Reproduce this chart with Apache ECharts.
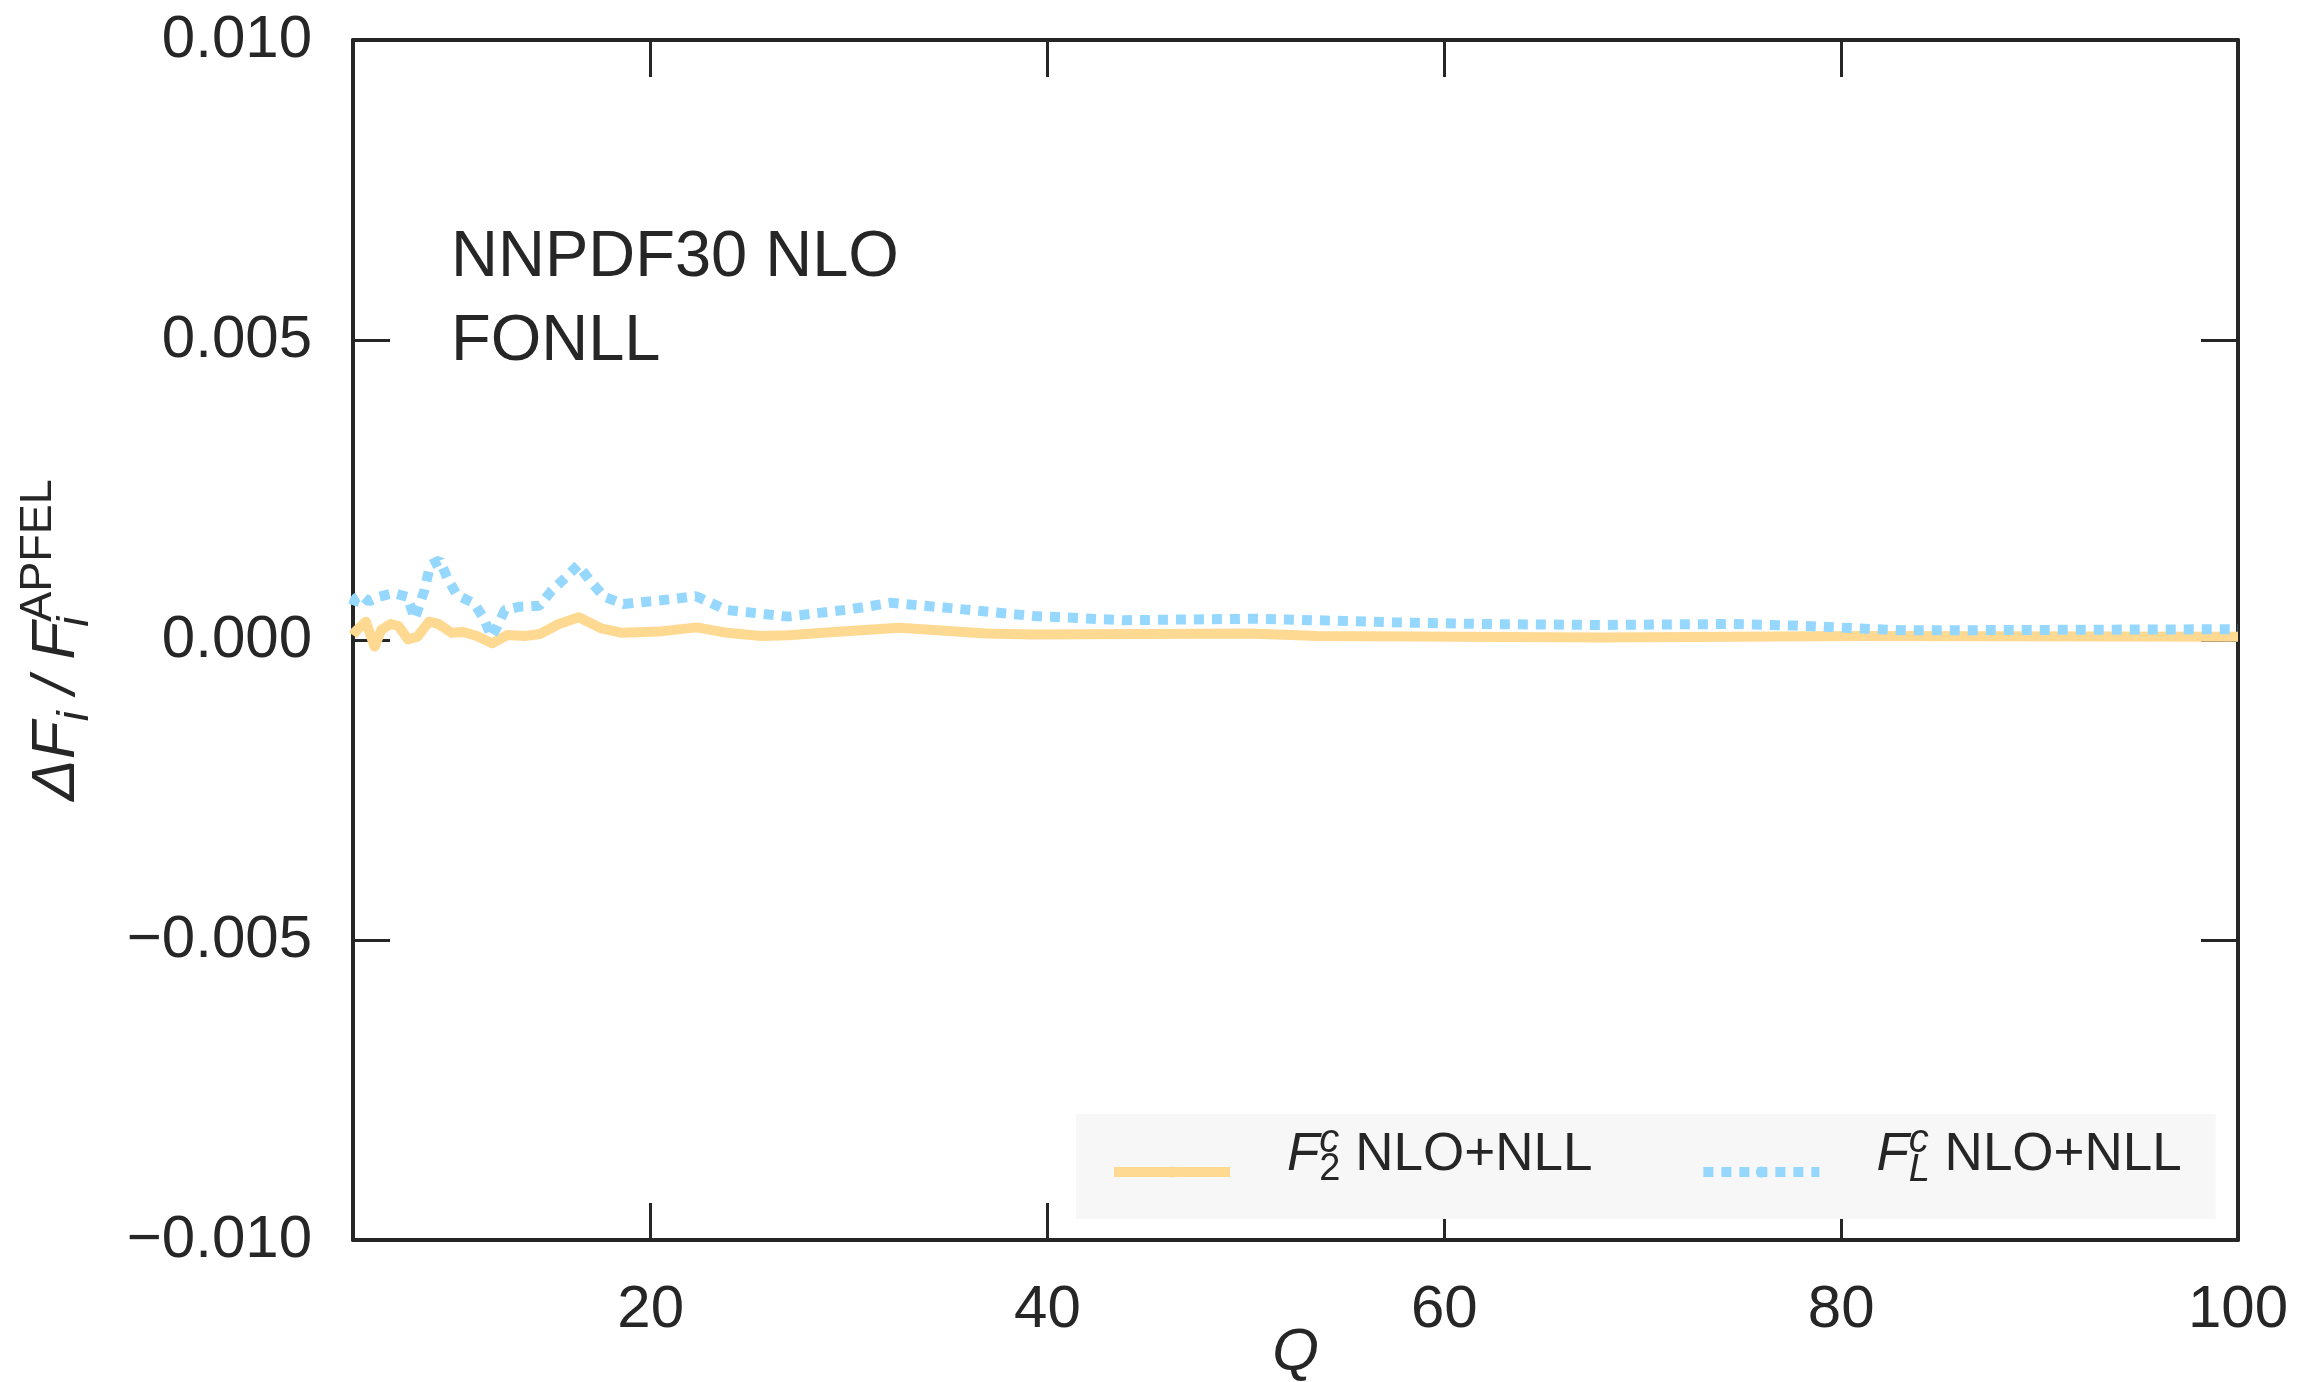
<!DOCTYPE html>
<html>
<head>
<meta charset="utf-8">
<script src="https://cdn.jsdelivr.net/npm/echarts@6/dist/echarts.min.js"></script>
<style>
html,body{margin:0;padding:0;background:#fff;}
#chart{width:2317px;height:1382px;}
</style>
</head>
<body>
<div id="chart"></div>
<script>
// ---- data ----
const qF2 = [5.0, 5.12, 5.65, 6.09, 6.42, 6.90, 7.29, 7.77, 8.25, 8.83, 9.31, 9.98, 10.56, 11.24, 12.01, 12.78, 13.65, 14.42, 15.38, 16.38, 17.50, 18.56, 20.39, 22.32, 23.86, 25.59, 26.94, 28.68, 32.53, 36.9, 39.3, 50.2, 53.6, 67.9, 81.1, 100];
const f2Vals = [0.00008, 0.00014, 0.000305, -0.00011, 0.000167, 0.000267, 0.000233, 0.00001, 0.000055, 0.000305, 0.000267, 0.00012, 0.000133, 0.000067, -0.000055, 0.000083, 0.000067, 0.0001, 0.000267, 0.000378, 0.000195, 0.00012, 0.00014, 0.00021, 0.00012, 0.000067, 0.000078, 0.00012, 0.000205, 0.00011, 0.00009, 0.00011, 0.000067, 0.00004, 0.000067, 0.000055];

const qFL = [5.0, 5.12, 5.42, 5.80, 6.29, 7.06, 7.73, 8.12, 8.60, 8.89, 9.37, 9.76, 10.24, 11.11, 11.59, 11.98, 12.26, 12.65, 13.42, 14.39, 14.97, 15.74, 16.35, 16.99, 17.66, 18.63, 20.36, 22.29, 23.83, 26.91, 30.0, 32.1, 34.8, 39.3, 43.8, 50.6, 57.4, 61.8, 67.9, 74.3, 77.7, 81.1, 83.3, 100];
const fLVals = [0.00058, 0.00069, 0.00075, 0.00064, 0.00072, 0.00078, 0.00072, 0.00036, 0.00083, 0.00125, 0.00133, 0.00103, 0.00075, 0.00061, 0.00036, 0.000055, 0.00022, 0.0005, 0.000555, 0.00057, 0.000805, 0.00105, 0.00125, 0.00097, 0.00072, 0.0006, 0.000655, 0.00073, 0.0005, 0.00039, 0.00051, 0.00062, 0.00054, 0.0004, 0.00033, 0.000355, 0.000295, 0.000267, 0.00025, 0.000267, 0.00024, 0.00019, 0.00016, 0.00018];

const seriesNames = ['F2c', 'FLc'];
const xLabelValues = [20, 40, 60, 80, 100];
const xTickValues = [20, 40, 60, 80];
const annotationLines = ['NNPDF30 NLO', 'FONLL'];

const FONT = '"Liberation Sans", Arial, sans-serif';
const INK = '#262626';
const ORANGE = '#fed992';
const BLUE = '#96d8fd';

function pairs(xs, ys) { return xs.map((x, i) => [x, ys[i]]); }

const chart = echarts.init(document.getElementById('chart'), null, {renderer: 'canvas'});

const axisLineStyle = {show: true, onZero: false, lineStyle: {color: INK, width: 4}};
const tickStyle = {show: true, inside: true, length: 37, lineStyle: {color: INK, width: 3}};

const option = {
  backgroundColor: '#ffffff',
  animation: false,
  textStyle: {fontFamily: FONT, color: INK},
  grid: {left: 353, right: 79, top: 40, bottom: 142, containLabel: false, outerBoundsMode: 'none'},
  xAxis: [
    {
      type: 'value', min: 5, max: 100, position: 'bottom',
      axisLine: axisLineStyle,
      axisTick: Object.assign({}, tickStyle, {customValues: xTickValues}),
      axisLabel: {customValues: xLabelValues, fontSize: 60, margin: 40, color: INK, fontFamily: FONT},
      splitLine: {show: false},
      name: 'Q', nameLocation: 'middle', nameGap: 83, nameMoveOverlap: false,
      nameTextStyle: {fontSize: 60, fontStyle: 'italic', color: INK, fontFamily: FONT}
    },
    {
      type: 'value', min: 5, max: 100, position: 'top',
      axisLine: axisLineStyle,
      axisTick: Object.assign({}, tickStyle, {customValues: xTickValues}),
      axisLabel: {show: false},
      splitLine: {show: false}
    }
  ],
  yAxis: [
    {
      type: 'value', min: -0.01, max: 0.01, interval: 0.005, position: 'left',
      axisLine: axisLineStyle,
      axisTick: tickStyle,
      axisLabel: {
        fontSize: 60, margin: 41, color: INK, fontFamily: FONT,
        formatter: v => (v < -1e-12 ? '\u2212' : '') + Math.abs(v).toFixed(3)
      },
      splitLine: {show: false},
      name: '{m|\u0394F}{s|i}{m| / F}{s0|i}{p|APFEL}',
      nameLocation: 'middle', nameGap: 255, nameRotate: 90, nameMoveOverlap: false,
      nameTextStyle: {
        color: INK, fontFamily: FONT,
        rich: {
          m: {fontSize: 62, fontStyle: 'italic', lineHeight: 82, verticalAlign: 'middle', fontFamily: FONT, color: INK},
          s: {fontSize: 45, fontStyle: 'italic', lineHeight: 45, verticalAlign: 'bottom', fontFamily: FONT, color: INK},
          s0: {fontSize: 45, fontStyle: 'italic', lineHeight: 45, verticalAlign: 'bottom', width: 0, fontFamily: FONT, color: INK},
          p: {fontSize: 45, lineHeight: 45, verticalAlign: 'top', fontFamily: FONT, color: INK}
        }
      }
    },
    {
      type: 'value', min: -0.01, max: 0.01, interval: 0.005, position: 'right',
      axisLine: axisLineStyle,
      axisTick: tickStyle,
      axisLabel: {show: false},
      splitLine: {show: false}
    }
  ],
  legend: {
    data: seriesNames,
    orient: 'horizontal',
    left: 1076, top: 1114,
    padding: [7, 34, 30, 33],
    backgroundColor: '#f7f7f7',
    itemWidth: 116, itemHeight: 14, itemGap: 106,
    lineStyle: {width: 10},
    selectedMode: false,
    formatter: function (name) {
      if (name === 'F2c') return '{f|F}{sup|c}{sub|2}{t| NLO+NLL}';
      return '{f|F}{sup|c}{subi|L}{t| NLO+NLL}';
    },
    textStyle: {
      color: INK, fontFamily: FONT,
      padding: [0, 0, 34, 52],
      rich: {
        f: {fontSize: 53, fontStyle: 'italic', lineHeight: 68, verticalAlign: 'middle', color: INK, fontFamily: FONT},
        sup: {fontSize: 40, fontStyle: 'italic', lineHeight: 40, verticalAlign: 'top', width: 0, color: INK, fontFamily: FONT},
        sub: {fontSize: 38, lineHeight: 38, verticalAlign: 'bottom', color: INK, fontFamily: FONT},
        subi: {fontSize: 38, fontStyle: 'italic', lineHeight: 38, verticalAlign: 'bottom', color: INK, fontFamily: FONT},
        t: {fontSize: 53, lineHeight: 68, verticalAlign: 'middle', color: INK, fontFamily: FONT}
      }
    }
  },
  graphic: [
    {type: 'text', x: 451, y: 258, style: {text: annotationLines[0], font: '65px ' + FONT, fill: INK, verticalAlign: 'middle', textVerticalAlign: 'middle'}},
    {type: 'text', x: 451, y: 342, style: {text: annotationLines[1], font: '65px ' + FONT, fill: INK, verticalAlign: 'middle', textVerticalAlign: 'middle'}}
  ],
  series: [
    {
      name: seriesNames[0], type: 'line', xAxisIndex: 0, yAxisIndex: 0,
      data: pairs(qF2, f2Vals), showSymbol: false, symbol: 'none', clip: true,
      lineStyle: {color: ORANGE, width: 10, join: 'round'},
      itemStyle: {color: ORANGE}
    },
    {
      name: seriesNames[1], type: 'line', xAxisIndex: 0, yAxisIndex: 0,
      data: pairs(qFL, fLVals), showSymbol: false, symbol: 'none', clip: true,
      lineStyle: {color: BLUE, width: 10, type: [10, 8], cap: 'butt'},
      itemStyle: {color: BLUE}
    }
  ]
};
chart.setOption(option);
</script>
</body>
</html>
